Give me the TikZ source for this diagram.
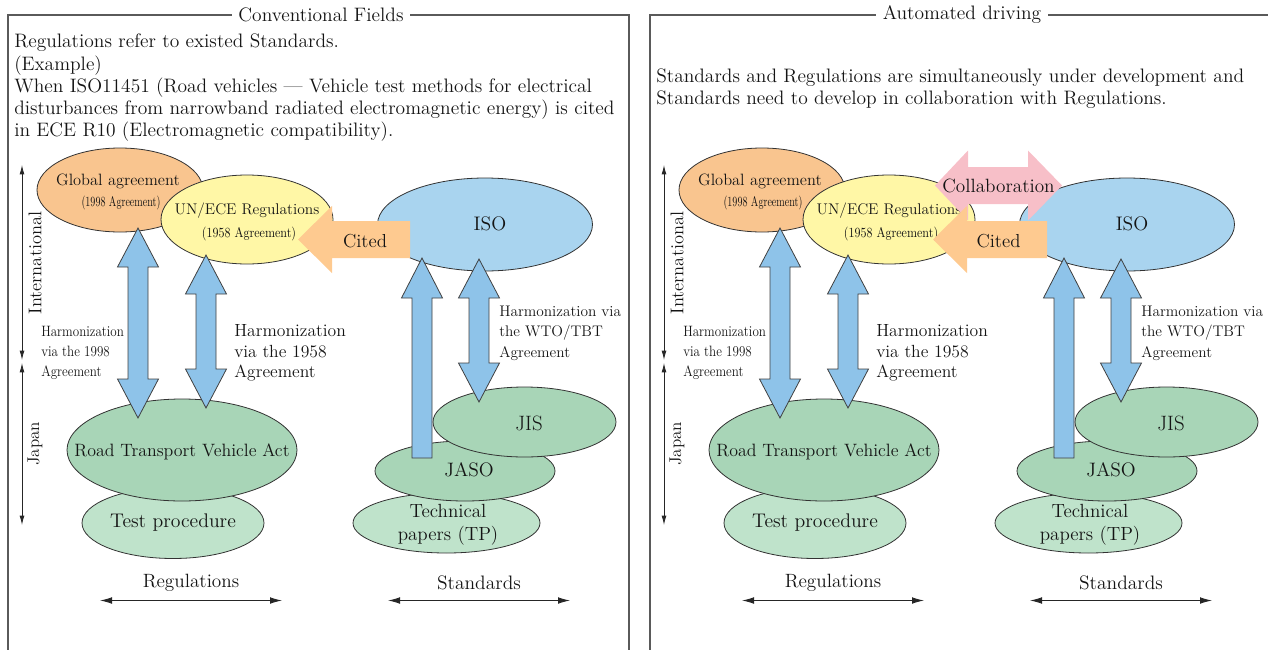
\documentclass[tikz,border=0pt]{standalone}
\usepackage{tikz}
\usepackage{xcolor}
\usepackage{graphicx}
\usetikzlibrary{shapes.geometric,calc,arrows.meta}

\definecolor{globorange}{RGB}{249,197,143}
\definecolor{uneceyellow}{RGB}{255,247,166}
\definecolor{isoblue}{RGB}{169,212,239}
\definecolor{harmblue}{RGB}{142,195,233}
\definecolor{jpgreen}{RGB}{168,213,183}
\definecolor{jplight}{RGB}{191,227,203}
\definecolor{citedorange}{RGB}{254,202,144}
\definecolor{collabpink}{RGB}{247,191,200}
\definecolor{framegray}{RGB}{90,90,90}
\definecolor{txtgray}{RGB}{20,20,20}

\newcommand{\setfs}[2]{\fontsize{#1}{#2}\selectfont}

\begin{document}
\begin{tikzpicture}[x=0.75pt,y=0.75pt,yscale=-1,xscale=1,
  every node/.style={text=txtgray,inner sep=0.75pt},
  ell/.style 2 args={ellipse,draw=black!80,line width=0.6pt,inner sep=0pt,minimum width=#1*0.75pt,minimum height=#2*0.75pt},
  panelline/.style={draw=framegray,line width=0.8pt},
  axisarr/.style={{Latex[length=7pt,width=3.6pt]}-{Latex[length=7pt,width=3.6pt]},line width=0.6pt,draw=black!85},
  spanarr/.style={{Latex[length=9pt,width=5pt]}-{Latex[length=9pt,width=5pt]},line width=0.7pt,draw=black!85},
  vdbl/.style={draw=black!75,fill=harmblue,line width=0.6pt,
    to path={-- ($(\tikztostart)+(20.5,39)$) -- ($(\tikztostart)+(10,39)$)
      -- ($(\tikztotarget)+(10,-39)$) -- ($(\tikztotarget)+(20.5,-39)$) -- (\tikztotarget)
      -- ($(\tikztotarget)+(-20.5,-39)$) -- ($(\tikztotarget)+(-10,-39)$)
      -- ($(\tikztostart)+(-10,39)$) -- ($(\tikztostart)+(-20.5,39)$) -- cycle}},
  vup/.style={draw=black!75,fill=harmblue,line width=0.6pt,
    to path={-- ($(\tikztostart)+(10,0)$) -- ($(\tikztotarget)+(10,40)$) -- ($(\tikztotarget)+(20.5,40)$)
      -- (\tikztotarget) -- ($(\tikztotarget)+(-20.5,40)$) -- ($(\tikztotarget)+(-10,40)$)
      -- ($(\tikztostart)+(-10,0)$) -- cycle}},
  citedarr/.style={fill=citedorange,
    to path={-- ($(\tikztostart)+(0,-18.5)$) -- ($(\tikztotarget)+(34,-18.5)$) -- ($(\tikztotarget)+(34,-33.5)$)
      -- (\tikztotarget) -- ($(\tikztotarget)+(34,33.5)$) -- ($(\tikztotarget)+(34,18.5)$)
      -- ($(\tikztostart)+(0,18.5)$) -- cycle}},
  collabarr/.style={fill=collabpink,
    to path={-- ($(\tikztostart)+(33,-35)$) -- ($(\tikztostart)+(33,-18.5)$)
      -- ($(\tikztotarget)+(-34,-18.5)$) -- ($(\tikztotarget)+(-34,-35)$) -- (\tikztotarget)
      -- ($(\tikztotarget)+(-34,35)$) -- ($(\tikztotarget)+(-34,18.5)$)
      -- ($(\tikztostart)+(33,18.5)$) -- ($(\tikztostart)+(33,35)$) -- cycle}}
]
\useasboundingbox (0,0) rectangle (1268,650);

%Frames
\draw[panelline] (8,650) -- (8,15) -- (629,15) -- (629,650);
\draw[panelline] (650,650) -- (650,15) -- (1268,15);
\node[fill=white,inner xsep=5pt,font=\setfs{14.6}{16}] (L-title) at (321,15) {Conventional Fields};
\node[fill=white,inner xsep=5pt,font=\setfs{14.6}{16}] (R-title) at (962,15) {Automated driving};

% Text Node
\node[font=\setfs{14.6}{16.7},align=left,anchor=west] (L-intro) at (13,88) {Regulations refer to existed Standards.\\(Example)\\When ISO11451 (Road vehicles --- Vehicle test methods for electrical\\disturbances from narrowband radiated electromagnetic energy) is cited\\in ECE R10 (Electromagnetic compatibility).};
% Text Node
\node[font=\setfs{14.6}{16.7},align=left,anchor=west] (R-intro) at (655,89) {Standards and Regulations are simultaneously under development and\\Standards need to develop in collaboration with Regulations.};

\foreach \p/\dx in {L/0,R/642}{
  %Shapes: Ellipse
  \node[ell={166}{84},fill=globorange] (\p-glob) at (\dx+120,190) {};
  \node[ell={172}{89},fill=uneceyellow] (\p-unece) at (\dx+247,219.5) {};
  \node[ell={215}{93},fill=isoblue] (\p-iso) at (\dx+485,224.5) {};
  \node[ell={182}{71},fill=jplight] (\p-test) at (\dx+173,523) {};
  \node[ell={230}{102},fill=jpgreen] (\p-rtva) at (\dx+182,450) {};
  \node[ell={187}{60},fill=jplight] (\p-tp) at (\dx+446.5,523) {};
  \node[ell={180}{60},fill=jpgreen] (\p-jaso) at (\dx+465,471) {};
  \node[ell={183}{70},fill=jpgreen] (\p-jis) at (\dx+524.5,422) {};

  %Block arrows
  \coordinate (\p-h98a) at (\dx+138,228);
  \coordinate (\p-h98b) at (\dx+138,418);
  \coordinate (\p-h58a) at (\dx+206,255);
  \coordinate (\p-h58b) at (\dx+206,408);
  \coordinate (\p-upb) at (\dx+422,458);
  \coordinate (\p-upt) at (\dx+422,258);
  \coordinate (\p-wtoa) at (\dx+479,259);
  \coordinate (\p-wtob) at (\dx+479,402);
  \draw[vdbl] (\p-h98a) to (\p-h98b);
  \draw[vdbl] (\p-h58a) to (\p-h58b);
  \draw[vup] (\p-upb) to (\p-upt);
  \draw[vdbl] (\p-wtoa) to (\p-wtob);

  % Text Node
  \node[font=\setfs{12.3}{14}] (\p-globt) at (\dx+118,181) {Global agreement};
  \node[font=\setfs{10.5}{12}] (\p-globs) at (\dx+121,203) {\scalebox{0.72}[1]{(1998 Agreement)}};
  \node[font=\setfs{11.6}{13}] (\p-unect) at (\dx+247,211) {UN/ECE Regulations};
  \node[font=\setfs{10.5}{12}] (\p-uneccs) at (\dx+249,234) {\scalebox{0.86}[1]{(1958 Agreement)}};
  \node[font=\setfs{14.7}{17}] (\p-isot) at (\dx+490,224) {ISO};
  \node[font=\setfs{13.4}{15}] (\p-rtvat) at (\dx+182,452) {Road Transport Vehicle Act};
  \node[font=\setfs{14.8}{17}] (\p-testt) at (\dx+173,523) {Test procedure};
  \node[font=\setfs{14.3}{17.5},align=center] (\p-tpt) at (\dx+448,525) {Technical\\papers (TP)};
  \node[font=\setfs{14.6}{16}] (\p-jasot) at (\dx+469,470) {JASO};
  \node[font=\setfs{15.6}{17}] (\p-jist) at (\dx+529,423) {JIS};
  \node[font=\setfs{11.25}{15},align=left,anchor=west] (\p-h98t) at (\dx+40,353) {\scalebox{0.87}[1]{Harmonization}\\\scalebox{0.87}[1]{via the 1998}\\\scalebox{0.87}[1]{Agreement}};
  \node[font=\setfs{13.2}{15.4},align=left,anchor=west] (\p-h58t) at (\dx+233,353) {Harmonization\\via the 1958\\Agreement};
  \node[font=\setfs{11.5}{15.4},align=left,anchor=west] (\p-wtot) at (\dx+498,333) {Harmonization via\\the WTO/TBT\\Agreement};

  %Axis
  \coordinate (\p-inta) at (\dx+22,165);
  \coordinate (\p-intb) at (\dx+22,360);
  \coordinate (\p-jpa) at (\dx+22,363);
  \coordinate (\p-jpb) at (\dx+22,525);
  \draw[axisarr] (\p-inta) -- (\p-intb);
  \draw[axisarr] (\p-jpa) -- (\p-jpb);
  \node[rotate=90,font=\setfs{13.8}{16}] (\p-intt) at (\dx+35,263) {International};
  \node[rotate=90,font=\setfs{12.8}{15}] (\p-jpt) at (\dx+35,444) {Japan};

  %Bottom
  \node[font=\setfs{14.4}{16}] (\p-regt) at (\dx+191,583) {Regulations};
  \node[font=\setfs{14.6}{16}] (\p-stdt) at (\dx+479,583) {Standards};
  \coordinate (\p-rega) at (\dx+100,600.5);
  \coordinate (\p-regb) at (\dx+282,600.5);
  \coordinate (\p-stda) at (\dx+388,600.5);
  \coordinate (\p-stdb) at (\dx+570,600.5);
  \draw[spanarr] (\p-rega) -- (\p-regb);
  \draw[spanarr] (\p-stda) -- (\p-stdb);
}

%Cited (left)
\coordinate (L-citr) at (410,239.5);
\coordinate (L-citl) at (298,239.5);
\path[citedarr] (L-citr) to (L-citl);
\node[font=\setfs{14.1}{16}] (L-citedt) at (365,241) {Cited};

%Collaboration and Cited (right)
\coordinate (R-cola) at (935,185.5);
\coordinate (R-colb) at (1062,185.5);
\path[collabarr] (R-cola) to (R-colb);
\node[font=\setfs{14.4}{16}] (R-colt) at (998.5,185.5) {Collaboration};
\coordinate (R-citr) at (1047,239.5);
\coordinate (R-citl) at (933,239.5);
\path[citedarr] (R-citr) to (R-citl);
\node[font=\setfs{14.1}{16}] (R-citedt) at (998.5,241.5) {Cited};

\end{tikzpicture}
\end{document}
